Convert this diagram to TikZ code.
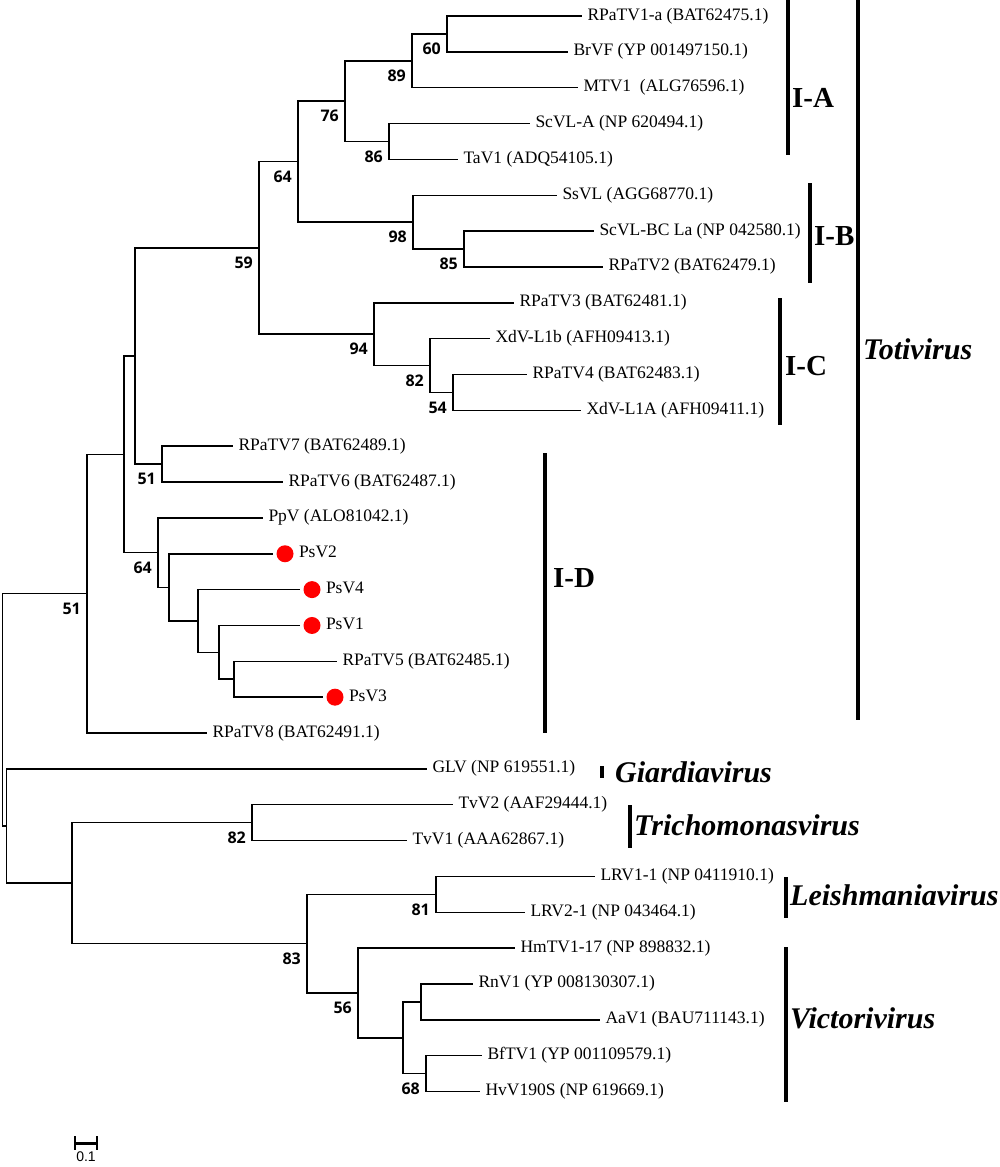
\documentclass[tikz,border=0pt]{standalone}
\usepackage{fontspec}
\setmainfont{Liberation Serif}
\newfontfamily\bootfont{Open Sans}
\newfontfamily\scalefont{Liberation Sans}
\usepackage{tikz}
\usetikzlibrary{positioning,calc}

\tikzset{
  branch/.style={line width=1.5pt},
  leaf/.style={anchor=west, inner xsep=5.5pt, inner ysep=0pt, outer sep=0pt,
    text height=12pt, text depth=4pt, font=\fontsize{17.5}{20}\selectfont},
  hit/.style={circle, fill=red, inner sep=0pt, outer sep=0pt, minimum size=17pt},
  boot/.style={anchor=east, xshift=-6pt, yshift=-15pt, inner sep=0pt,
    font=\bootfont\bfseries\fontsize{16}{18}\selectfont},
  cladebar/.style={line width=4pt},
  clade/.style={anchor=west, inner sep=0pt, font=\bfseries\fontsize{29}{32}\selectfont},
  genus/.style={anchor=west, inner sep=0pt, font=\bfseries\itshape\fontsize{30}{32}\selectfont}
}

\begin{document}
\begin{tikzpicture}[x=1pt, y=-1pt]
  \useasboundingbox (0,0) rectangle (1000,1167);

  % internal nodes
  \coordinate (root) at (2.5,709.9);
  \coordinate (n51a) at (87,593.7);
  \coordinate (nX) at (124,454.3);
  \coordinate (nY) at (135,356);
  \coordinate (n59) at (259,247.9);
  \coordinate (n64a) at (298,161.6);
  \coordinate (n76) at (345,101.15);
  \coordinate (n89) at (412,60.8);
  \coordinate (n60) at (447,33.9);
  \coordinate (n86) at (389,141.5);
  \coordinate (n98) at (413,222.1);
  \coordinate (n85) at (464,249);
  \coordinate (n94) at (374,334.2);
  \coordinate (n82) at (430,365.5);
  \coordinate (n54) at (453,392.4);
  \coordinate (n51b) at (162,464.1);
  \coordinate (n64b) at (158,552.6);
  \coordinate (nb) at (169,587.4);
  \coordinate (nc) at (198,621);
  \coordinate (nd) at (219,652.3);
  \coordinate (ne) at (234,679.2);
  \coordinate (nG) at (6.5,826);
  \coordinate (nT) at (72,883.1);
  \coordinate (n82b) at (252,822.6);
  \coordinate (n83) at (307,943.6);
  \coordinate (n81) at (436,894.3);
  \coordinate (n56) at (358,993);
  \coordinate (nVic) at (403,1037.8);
  \coordinate (nRA) at (421,1001.9);
  \coordinate (n68) at (426,1073.6);

  % leaves
  \foreach \nm/\xe/\i/\txt in {
      rpatv1a/582/0/{RPaTV1-a (BAT62475.1)}, brvf/568/1/{BrVF (YP 001497150.1)},
      mtv1/578/2/{MTV1\enspace(ALG76596.1)}, scvla/530/3/{ScVL-A (NP 620494.1)},
      tav1/458/4/{TaV1 (ADQ54105.1)}, ssvl/557/5/{SsVL (AGG68770.1)},
      scvlbc/594/6/{ScVL-BC La (NP 042580.1)}, rpatv2/603/7/{RPaTV2 (BAT62479.1)},
      rpatv3/514/8/{RPaTV3 (BAT62481.1)}, xdvlb/490/9/{XdV-L1b (AFH09413.1)},
      rpatv4/527/10/{RPaTV4 (BAT62483.1)}, xdvla/581/11/{XdV-L1A (AFH09411.1)},
      rpatv7/233/12/{RPaTV7 (BAT62489.1)}, rpatv6/283/13/{RPaTV6 (BAT62487.1)},
      ppv/263/14/{PpV (ALO81042.1)}, rpatv5/337/18/{RPaTV5 (BAT62485.1)},
      rpatv8/207/20/{RPaTV8 (BAT62491.1)}, glv/427/21/{GLV (NP 619551.1)},
      tvv2/453/22/{TvV2 (AAF29444.1)}, tvv1/407/23/{TvV1 (AAA62867.1)},
      lrva/595/24/{LRV1-1 (NP 0411910.1)}, lrvb/525/25/{LRV2-1 (NP 043464.1)},
      hmtv/515/26/{HmTV1-17 (NP 898832.1)}, rnv1/473/27/{RnV1 (YP 008130307.1)},
      aav1/600/28/{AaV1 (BAU711143.1)}, bftv1/482/29/{BfTV1 (YP 001109579.1)},
      hvv/480/30/{HvV190S (NP 619669.1)}}
    \node[leaf] (\nm) at (\xe,{16+35.85*\i}) {\txt};

  \foreach \nm/\xd/\i/\txt in {psv2/285/15/PsV2, psv4/312/16/PsV4, psv1/312/17/PsV1, psv3/335/19/PsV3}{
    \node[hit] (\nm) at (\xd,{16+35.85*\i}) {};
    \node[leaf] (\nm-t) at (\nm.east) {\txt};
  }

  % branches
  \foreach \p/\c in {root/n51a, root/nG, n51a/nX, n51a/rpatv8, nX/nY, nX/n64b,
      nY/n59, nY/n51b, n59/n64a, n59/n94, n64a/n76, n64a/n98, n76/n89, n76/n86,
      n89/n60, n89/mtv1, n60/rpatv1a, n60/brvf, n86/scvla, n86/tav1, n98/ssvl,
      n98/n85, n85/scvlbc, n85/rpatv2, n94/rpatv3, n94/n82, n82/xdvlb, n82/n54,
      n54/rpatv4, n54/xdvla, n51b/rpatv7, n51b/rpatv6, n64b/ppv, n64b/nb, nb/nc,
      nc/nd, nd/ne, ne/rpatv5, nG/glv, nG/nT, nT/n82b, nT/n83, n82b/tvv2,
      n82b/tvv1, n83/n81, n83/n56, n81/lrva, n81/lrvb, n56/hmtv, n56/nVic,
      nVic/nRA, nVic/n68, nRA/rnv1, nRA/aav1, n68/bftv1, n68/hvv}
    \draw[branch] (\p) |- (\c);
  \foreach \p/\c in {nb/psv2, nc/psv4, nd/psv1, ne/psv3}
    \draw[branch, shorten >=4pt] (\p) |- (\c);

  % bootstrap values
  \foreach \n/\v in {n60/60, n89/89, n76/76, n86/86, n64a/64, n98/98, n85/85,
      n59/59, n94/94, n82/82, n54/54, n51b/51, n64b/64, n51a/51, n82b/82,
      n81/81, n83/83, n56/56, n68/68}
    \node[boot] (b\n) at (\n) {\v};

  % clade bars
  \foreach \nm/\xb/\ya/\yb in {toti/858/0/720, ia/788/0/155, ib/810/183/283,
      ic/780/298/425, id/545/453/733, giardia/602/766/778, trich/630/805/848,
      leish/786/877/918, vict/786/947/1102}{
    \coordinate (\nm-top) at (\xb,\ya);
    \coordinate (\nm-bot) at (\xb,\yb);
    \draw[cladebar] (\nm-top) -- (\nm-bot);
  }
  \node[clade] (ialbl) at (792,98) {I-A};
  \node[clade] (iblbl) at (814,236) {I-B};
  \node[clade] (iclbl) at (785,366) {I-C};
  \node[clade] (idlbl) at (553,578) {I-D};
  \node[genus] (totilbl) at (863,349) {Totivirus};
  \node[genus] (giardialbl) at (615,772) {Giardiavirus};
  \node[genus] (trichlbl) at (634,825) {Trichomonasvirus};
  \node[genus] (leishlbl) at (790,895) {Leishmaniavirus};
  \node[genus] (victlbl) at (790,1018) {Victorivirus};

  % scale bar
  \coordinate (sba) at (75,1143);
  \coordinate (sbb) at (97,1143);
  \draw[line width=3pt] (sba) -- (sbb);
  \draw[line width=2.5pt] ([yshift=7pt]sba) -- ([yshift=-7pt]sba);
  \draw[line width=2.5pt] ([yshift=7pt]sbb) -- ([yshift=-7pt]sbb);
  \node[anchor=north, inner sep=0pt, font=\scalefont\fontsize{14}{16}\selectfont] (sblbl) at (86,1152) {0.1};
\end{tikzpicture}
\end{document}
